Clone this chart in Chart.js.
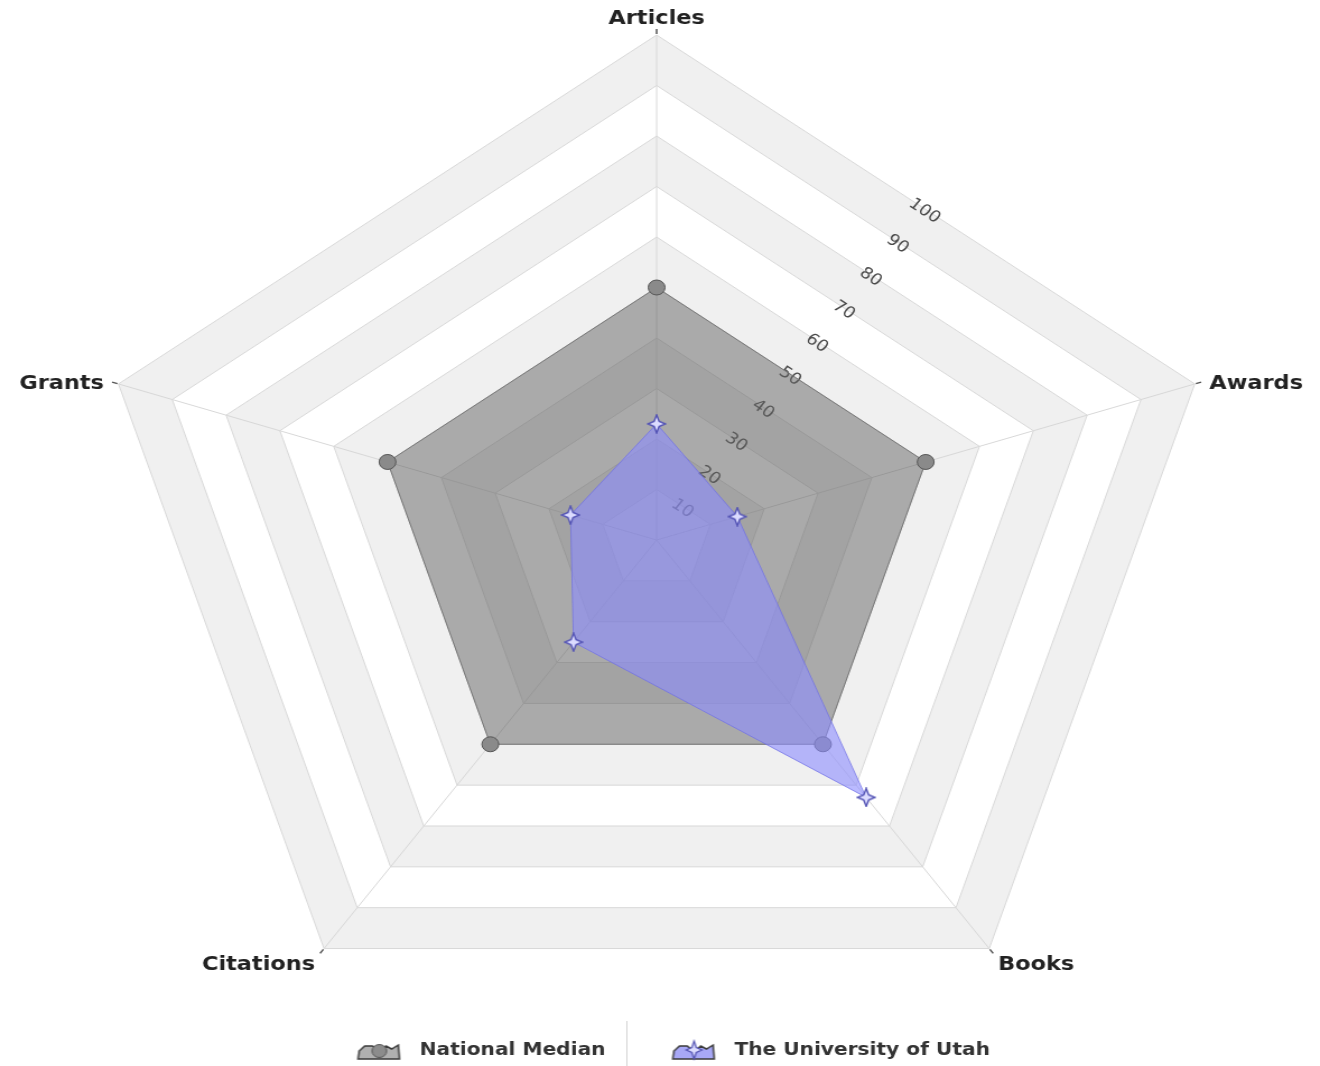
<!DOCTYPE html>
<html><head><meta charset="utf-8">
<script src="https://cdn.jsdelivr.net/npm/chart.js@4.4.1/dist/chart.umd.min.js"></script>
<style>
html,body{margin:0;padding:0;background:#fff;overflow:hidden;width:1320px;height:1066px;}
#wrap{position:absolute;left:0;top:0;width:1178px;height:1066px;transform:scaleX(1.1205);transform-origin:0 0;}
</style></head><body>
<div id="wrap"><canvas id="c"></canvas></div>
<script>
const categories = ['Articles', 'Awards', 'Books', 'Citations', 'Grants'];
const nationalMedian = [50, 50, 50, 50, 50];
const universityOfUtah = [23, 15, 63, 25, 16];
const seriesNames = ['National Median', 'The University of Utah'];
const tickLabels = ['10', '20', '30', '40', '50', '60', '70', '80', '90', '100'];

const FONT = "'DejaVu Sans', Verdana, sans-serif";
Chart.defaults.font.family = FONT;

function starPath(g, cx, cy, rx, ry) {
  const ix = rx * 0.28, iy = ry * 0.28;
  g.beginPath();
  g.moveTo(cx, cy - ry);
  g.lineTo(cx + ix, cy - iy);
  g.lineTo(cx + rx, cy);
  g.lineTo(cx + ix, cy + iy);
  g.lineTo(cx, cy + ry);
  g.lineTo(cx - ix, cy + iy);
  g.lineTo(cx - rx, cy);
  g.lineTo(cx - ix, cy - iy);
  g.closePath();
}
function makeStar(w, h, fill, stroke) {
  const c = document.createElement('canvas');
  c.width = w; c.height = h;
  const g = c.getContext('2d');
  starPath(g, w / 2, h / 2, w / 2 - 1, h / 2 - 1);
  g.fillStyle = fill; g.fill();
  g.lineWidth = 1.4; g.strokeStyle = stroke; g.stroke();
  return c;
}
function makeLegendIcon(areaFill, marker) {
  const c = document.createElement('canvas');
  c.width = 76; c.height = 22;
  const g = c.getContext('2d');
  const pts = [[30,20],[31,12],[36,7],[43,7],[46,10],[52,10],[55,7],[60,10],[66,6],[67,20]];
  g.beginPath();
  pts.forEach((p, i) => i ? g.lineTo(p[0], p[1]) : g.moveTo(p[0], p[1]));
  g.closePath();
  g.fillStyle = areaFill; g.fill();
  g.lineWidth = 1.5; g.strokeStyle = '#3a3a3a'; g.stroke();
  if (marker === 'circle') {
    g.beginPath(); g.arc(49, 12, 6.5, 0, Math.PI * 2);
    g.fillStyle = '#8c8c8c'; g.fill(); g.lineWidth = 1; g.strokeStyle = '#555'; g.stroke();
  } else {
    starPath(g, 49, 11, 7, 9);
    g.fillStyle = '#dcdcff'; g.fill(); g.lineWidth = 1.2; g.strokeStyle = '#4f4fb0'; g.stroke();
  }
  return c;
}
const starPoint = makeStar(18, 20, '#dcdcff', '#5252b4');
const legendIcons = [makeLegendIcon('#b0b0b0', 'circle'), makeLegendIcon('#a8a8f6', 'star')];

const radarDecor = {
  id: 'radarDecor',
  beforeDraw(chart) {
    const s = chart.scales.r, ctx = chart.ctx;
    const vals = tickLabels.map(Number);
    ctx.save();
    ctx.fillStyle = '#f0f0f0';
    for (let i = vals.length - 1; i >= 0; i -= 2) {
      const outer = vals[i], inner = i > 0 ? vals[i - 1] : 0;
      ctx.beginPath();
      for (const v of [outer, inner]) {
        for (let k = 0; k < categories.length; k++) {
          const p = s.getPointPositionForValue(k, v);
          if (k) ctx.lineTo(p.x, p.y); else ctx.moveTo(p.x, p.y);
        }
        ctx.closePath();
      }
      ctx.fill('evenodd');
    }
    ctx.restore();
  },
  beforeDatasetsDraw(chart) {
    const s = chart.scales.r, ctx = chart.ctx;
    ctx.save();
    // value labels along the Articles–Awards edge of each ring
    ctx.font = '16px ' + FONT;
    ctx.fillStyle = '#4a4a4a';
    ctx.textAlign = 'center';
    ctx.textBaseline = 'middle';
    tickLabels.forEach(t => {
      const v = Number(t);
      const a = s.getPointPositionForValue(0, v), b = s.getPointPositionForValue(1, v);
      ctx.save();
      ctx.translate((a.x + b.x) / 2, (a.y + b.y) / 2);
      ctx.rotate(Math.atan2(b.y - a.y, b.x - a.x));
      ctx.fillText(t, 0, 2);
      ctx.restore();
    });
    // short dark ticks beyond each vertex
    ctx.strokeStyle = '#555';
    ctx.lineWidth = 1.5;
    for (let i = 0; i < categories.length; i++) {
      const p0 = s.getPointPosition(i, s.drawingArea + 1);
      const p1 = s.getPointPosition(i, s.drawingArea + 6);
      ctx.beginPath(); ctx.moveTo(p0.x, p0.y); ctx.lineTo(p1.x, p1.y); ctx.stroke();
    }
    // category labels
    ctx.font = 'bold 20px ' + FONT;
    ctx.fillStyle = '#222';
    ctx.textBaseline = 'middle';
    categories.forEach((label, i) => {
      const p = s.getPointPosition(i, s.drawingArea);
      const ang = s.getIndexAngle(i);
      const sn = Math.sin(ang), cs = Math.cos(ang);
      let x = p.x, y = p.y;
      if (Math.abs(sn) < 0.05) { ctx.textAlign = 'center'; }
      else if (sn > 0) { ctx.textAlign = 'left'; }
      else { ctx.textAlign = 'right'; }
      if (cs > 0.9) { y -= 16; }
      else if (cs > 0) { x += Math.sign(sn) * 13; }
      else { x += Math.sign(sn) * 8; y += 16; }
      ctx.fillText(label, x, y);
    });
    ctx.restore();
  },
  afterDraw(chart) {
    const lg = chart.legend, ctx = chart.ctx;
    if (!lg || !lg.legendHitBoxes || lg.legendHitBoxes.length < 2) return;
    const h0 = lg.legendHitBoxes[0];
    const x = Math.round(h0.left + h0.width + 19);
    ctx.save();
    ctx.strokeStyle = '#d4d4d4';
    ctx.lineWidth = 1;
    ctx.beginPath(); ctx.moveTo(x + 0.5, h0.top - 20); ctx.lineTo(x + 0.5, chart.height); ctx.stroke();
    ctx.restore();
  }
};

new Chart(document.getElementById('c'), {
  type: 'radar',
  data: {
    labels: categories,
    datasets: [
      {
        label: seriesNames[0],
        data: nationalMedian,
        order: 1,
        fill: true,
        backgroundColor: 'rgba(100,100,100,0.55)',
        borderColor: '#767676',
        borderWidth: 1,
        pointStyle: 'circle',
        pointRadius: 7.5,
        pointBackgroundColor: '#8a8a8a',
        pointBorderColor: '#555',
        pointBorderWidth: 1
      },
      {
        label: seriesNames[1],
        data: universityOfUtah,
        order: 0,
        fill: true,
        backgroundColor: 'rgba(140,140,255,0.6)',
        borderColor: 'rgba(110,110,230,0.7)',
        borderWidth: 1,
        pointStyle: starPoint,
        pointRadius: 10
      }
    ]
  },
  options: {
    responsive: true,
    maintainAspectRatio: false,
    animation: false,
    layout: { padding: { top: 5, bottom: -3, left: 0, right: 5 } },
    scales: {
      r: {
        min: 0,
        max: 100,
        ticks: { stepSize: 10, display: false },
        grid: { color: '#d8d8d8', lineWidth: 1 },
        angleLines: { color: '#d8d8d8', lineWidth: 1 },
        pointLabels: { display: false },
        afterFit(scale) {
          // fit the pentagon (not a circle) between the top label and the legend
          const n = categories.length;
          const topSpace = 30, bottomSpace = 62;
          const R = Math.floor((scale.bottom - scale.top - topSpace - bottomSpace) / (1 + Math.cos(Math.PI / n)));
          scale.drawingArea = R;
          scale.yCenter = scale.top + topSpace + R;
        }
      }
    },
    plugins: {
      tooltip: { enabled: false },
      legend: {
        position: 'bottom',
        labels: {
          usePointStyle: true,
          pointStyleWidth: 76,
          boxHeight: 18,
          padding: 30,
          color: '#333',
          font: { size: 18, weight: 'bold' },
          generateLabels(chart) {
            return chart.data.datasets.map((d, i) => ({
              text: d.label,
              pointStyle: legendIcons[i],
              fillStyle: 'transparent',
              strokeStyle: 'transparent',
              lineWidth: 0,
              hidden: false,
              datasetIndex: i,
              fontColor: '#333'
            }));
          }
        }
      }
    }
  },
  plugins: [radarDecor]
});
</script>
</body></html>
